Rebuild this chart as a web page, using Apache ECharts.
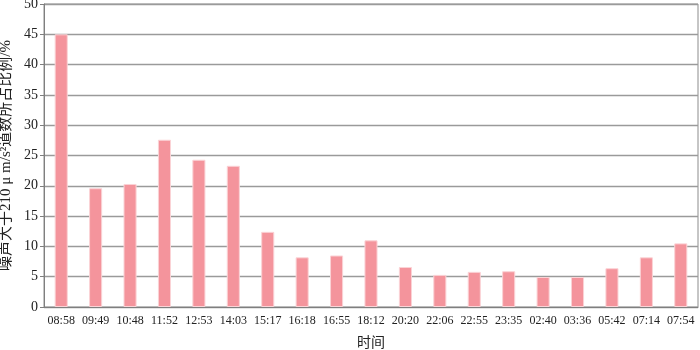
<!DOCTYPE html>
<html><head><meta charset="utf-8">
<script src="https://cdn.jsdelivr.net/npm/echarts@6/dist/echarts.min.js"></script>
<style>html,body{margin:0;padding:0;background:#fff}#c{width:700px;height:350px}</style>
</head><body><div id="c"></div>
<script>
const categories = ["08:58","09:49","10:48","11:52","12:53","14:03","15:17","16:18","16:55","18:12","20:20","22:06","22:55","23:35","02:40","03:36","05:42","07:14","07:54"];
const values = [45.0,19.6,20.3,27.6,24.3,23.3,12.4,8.2,8.5,11.0,6.6,5.3,5.8,5.9,4.95,4.95,6.4,8.2,10.5];
const yTicks = {min:0, max:50, interval:5};
const yTitle = "噪声大于210 μ m/s²道数所占比例/%";
const xTitle = "时间";
const font = '"Liberation Serif","Noto Sans CJK SC",serif';
const chart = echarts.init(document.getElementById('c'), null, {renderer:'canvas'});
chart.setOption({
  animation:false,
  grid:{left:44,right:2,top:4,bottom:43,show:true,borderColor:'#8c8c8c',borderWidth:1,
    containLabel:false,outerBoundsMode:'none'},
  xAxis:{type:'category',data:categories,
    axisLine:{lineStyle:{color:'#7f7f7f',width:1}},
    axisTick:{show:false},
    axisLabel:{interval:0,color:'#222',fontFamily:font,fontSize:12,margin:8},
    name:xTitle,nameLocation:'middle',nameGap:29,
    nameTextStyle:{color:'#222',fontFamily:font,fontSize:14}},
  yAxis:{type:'value',min:yTicks.min,max:yTicks.max,interval:yTicks.interval,
    axisLine:{show:true,lineStyle:{color:'#7f7f7f',width:1}},
    axisTick:{show:true,length:4,lineStyle:{color:'#7f7f7f'}},
    splitLine:{lineStyle:{color:'#9a9a9a',width:1.3}},
    axisLabel:{color:'#222',fontFamily:font,fontSize:14,margin:6},
    name:yTitle,nameLocation:'middle',nameGap:27,
    nameTextStyle:{color:'#222',fontFamily:font,fontSize:15}},
  series:[{type:'bar',data:values,barWidth:'38%',
    itemStyle:{color:'#f4949c',borderColor:'#fbd3d6',borderWidth:1}}]
});
</script></body></html>
